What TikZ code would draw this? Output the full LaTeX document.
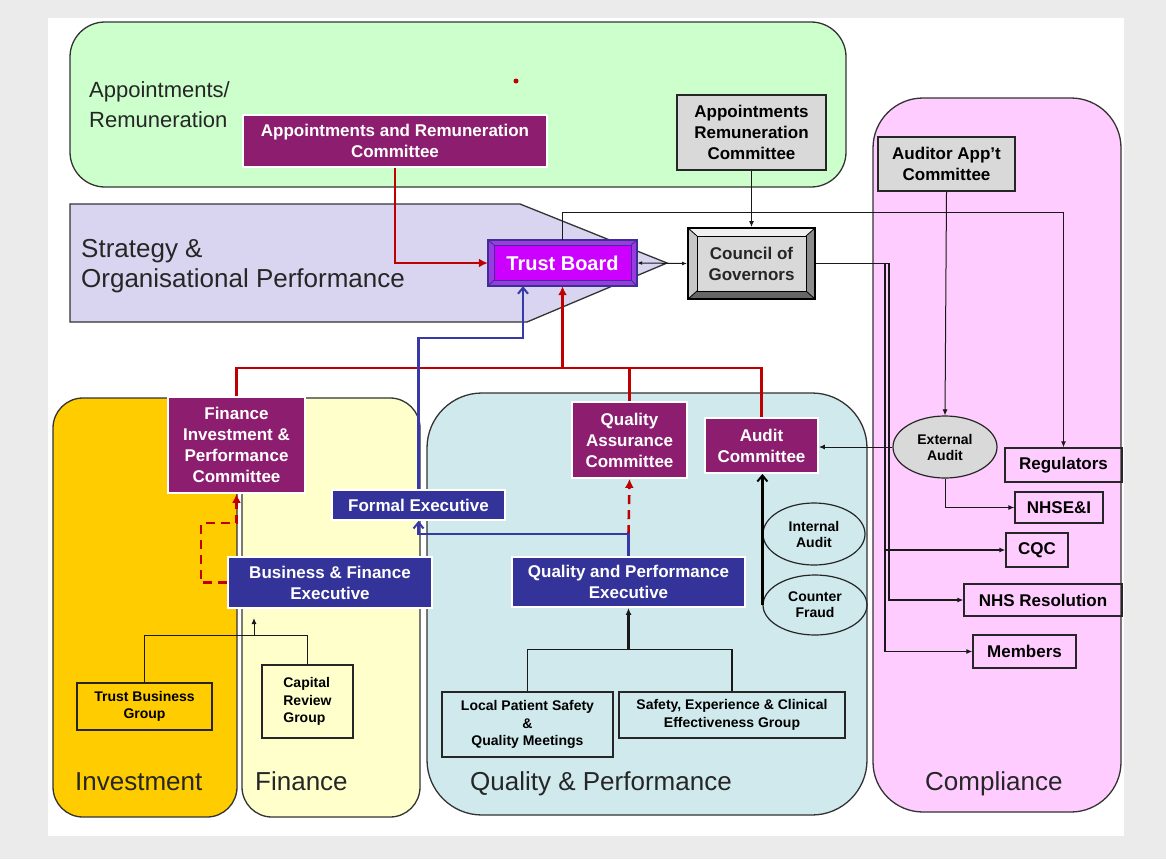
\documentclass[tikz,border=0pt]{standalone}
\usepackage{fontspec}
\setmainfont{Liberation Sans}
\usetikzlibrary{shapes.geometric,arrows.meta,calc}
\definecolor{cBg}{HTML}{EBEBEB}
\definecolor{cGreen}{HTML}{CCFFCC}
\definecolor{cLav}{HTML}{D9D5F0}
\definecolor{cGold}{HTML}{FFCC00}
\definecolor{cYel}{HTML}{FFFFCC}
\definecolor{cCyan}{HTML}{CFE9EC}
\definecolor{cPink}{HTML}{FFCCFF}
\definecolor{cPurple}{HTML}{8C1D6F}
\definecolor{cBlue}{HTML}{333399}
\definecolor{cBlueL}{HTML}{3838A8}
\definecolor{cRed}{HTML}{C00000}
\definecolor{cGray}{HTML}{D9D9D9}
\definecolor{cTB}{HTML}{CC00FF}
\definecolor{cTBo}{HTML}{9A3AE0}
\definecolor{cTBb}{HTML}{3C2F96}
\newcommand\fs[2]{\fontsize{#1}{#2}\selectfont}
\newcommand\mybox[7]{\node[#1, minimum width={#5-#3}, minimum height={#6-#4}] (#2) at ({(#3+#5)/2},{(#4+#6)/2}) {#7};}
\begin{document}
\begin{tikzpicture}[x=1pt,y=-1pt,
 panel/.style={draw=black!80, line width=1.3pt},
 pbox/.style={fill=cPurple, draw=white, line width=1.8pt, text=white, font=\bfseries\fs{17}{21}, align=center, inner sep=0pt},
 bbox/.style={fill=cBlue, draw=white, line width=1.8pt, text=white, font=\bfseries\fs{17}{21}, align=center, inner sep=0pt},
 gbox/.style={fill=cGray, draw=black!85, line width=1.3pt, font=\bfseries\fs{17}{21}, align=center, inner sep=0pt},
 wbox/.style={draw=black!85, line width=1.3pt, font=\bfseries\fs{17}{21}, align=center, inner sep=0pt},
 sbox/.style={draw=black!85, line width=1.2pt, font=\bfseries\fs{14}{17.5}, align=center, inner sep=0pt},
 ell/.style={ellipse, draw=black!85, line width=1.2pt, font=\bfseries\fs{14}{16}, align=center, inner sep=0pt},
 big/.style={font=\fs{26}{30}, anchor=base west, inner sep=0pt, text=black!85},
 mid/.style={font=\fs{22}{26}, anchor=base west, inner sep=0pt, text=black!85},
 conn/.style={draw=black!90, line width=1pt},
 arr/.style={-{Latex[length=6pt,width=5pt]}},
 rd/.style={draw=cRed, line width=2.6pt},
 bl/.style={draw=cBlueL, line width=2.6pt},
 barb/.style={-{Straight Barb[length=6pt,width=10pt,line width=2pt]}}
]
\useasboundingbox (0,0) rectangle (1166,859);
\fill[cBg] (0,0) rectangle (1166,859);
\fill[white] (48,18) rectangle (1124,836);

% panels
\draw[panel, fill=cGreen, rounded corners=35pt] (70,22) rectangle (846,187);
\draw[panel, fill=cLav] (70,204) -- (520,204) -- (667,263) -- (527,322) -- (70,322) -- cycle;
\draw[panel, fill=cPink, rounded corners=50pt] (873,98) rectangle (1121,812);
\draw[panel, fill=cGold, rounded corners=30pt] (53,398) rectangle (237,817);
\draw[panel, fill=cYel, rounded corners=30pt] (242,398) rectangle (420,817);
\draw[panel, fill=cCyan, rounded corners=55pt] (427,393) rectangle (867,815);

% labels
\node[mid] (lab1) at (89,97) {Appointments/};
\node[mid] (lab2) at (89,127) {Remuneration};
\node[big] (lab3) at (81,257) {Strategy \&};
\node[big] (lab4) at (81,287) {Organisational Performance};
\node[big] (lab5) at (75,790) {Investment};
\node[big] (lab6) at (255,790) {Finance};
\node[big] (lab7) at (470,790) {Quality \& Performance};
\node[big] (lab8) at (925,790) {Compliance};
\fill[cRed] (516,81) circle (2.5);

% Trust Board (bevel)
\fill[cTBo] (488,240) rectangle (637,286);
\fill[cTB] (494,245) rectangle (631,280);
\draw[cTBb, line width=0.8pt] (494,245) rectangle (631,280);
\draw[cTBb, line width=0.8pt] (488,240) -- (494,245) (637,240) -- (631,245) (488,286) -- (494,280) (637,286) -- (631,280);
\draw[cTBb, line width=2pt] (488,240) rectangle (637,286);
\node[inner sep=0pt, minimum width=149, minimum height=46, text=white, font=\bfseries\fs{20}{24}] (tb) at (562.5,263) {Trust Board};

% Council of Governors (bevel)
\fill[black!6] (688,228) -- (815,228) -- (806,236) -- (697,236) -- cycle;
\fill[black!22] (688,228) -- (697,236) -- (697,291) -- (688,299) -- cycle;
\fill[black!60] (688,299) -- (815,299) -- (806,291) -- (697,291) -- cycle;
\fill[black!45] (815,228) -- (815,299) -- (806,291) -- (806,236) -- cycle;
\draw[black, line width=0.8pt, fill=cGray] (697,236) rectangle (806,291);
\draw[black, line width=0.8pt] (688,228) -- (697,236) (815,228) -- (806,236) (688,299) -- (697,291) (815,299) -- (806,291);
\node[draw=black, line width=2pt, inner sep=0pt, minimum width=127, minimum height=71, font=\bfseries\fs{17}{21}, align=center, text=black!85] (council) at (751.5,263.5) {Council of\\Governors};

% boxes
\mybox{pbox}{arc}{243}{115}{547}{167}{Appointments and Remuneration\\Committee}
\mybox{gbox}{garc}{677}{95}{826}{170}{Appointments\\Remuneration\\Committee}
\mybox{gbox}{aac}{878}{137}{1015}{191}{Auditor App’t\\Committee}
\mybox{pbox}{fipc}{168}{397}{305}{493}{Finance\\Investment \&\\Performance\\Committee}
\mybox{bbox}{fe}{332}{490}{505}{520}{Formal Executive}
\mybox{bbox}{bfe}{228}{557}{432}{608}{Business \& Finance\\Executive}
\mybox{pbox}{qac}{572}{402}{687}{478}{Quality\\Assurance\\Committee}
\mybox{pbox}{audit}{705}{418}{818}{473}{Audit\\Committee}
\mybox{bbox}{qpe}{512}{557}{745}{607}{Quality and Performance\\Executive}
\mybox{sbox}{lps}{442}{692}{613}{757}{Local Patient Safety\\\&\\Quality Meetings}
\mybox{sbox}{sece}{619}{692}{845}{738}{Safety, Experience \& Clinical\\Effectiveness Group}
\mybox{sbox, fill=cGold}{tbg}{77}{683}{212}{730}{Trust Business\\Group}
\mybox{sbox, align=left}{crg}{262}{665}{353}{738}{Capital\\Review\\Group}
\mybox{wbox}{reg}{1005}{448}{1122}{482}{Regulators}
\mybox{wbox}{nhsei}{1015}{492}{1103}{523}{NHSE\&I}
\mybox{wbox}{cqc}{1006}{533}{1068}{567}{CQC}
\mybox{wbox}{nhsr}{964}{584}{1122}{616}{NHS Resolution}
\mybox{wbox}{mem}{973}{635}{1076}{668}{Members}
\node[ell, minimum width=102, minimum height=62] (ia) at (814,534) {Internal\\Audit};
\node[ell, minimum width=104, minimum height=60] (cf) at (815,605) {Counter\\Fraud};
\node[ell, fill=cGray, minimum width=104, minimum height=62] (ea) at (945,447) {External\\Audit};

% thin black connectors
\draw[conn, arr] (tb.north) -- ++(0,-27) -| (reg.north);
\draw[conn, arr] (garc.south) -- (council.north);
\draw[conn, {Latex[length=5pt,width=4pt]}-{Latex[length=5pt,width=4pt]}] (tb.east) -- (council.west);
\draw[conn, arr] (aac.south) -- (ea.north);
\draw[conn, arr] (ea.west) -- (ea.west -| audit.east);
\draw[conn, arr] (ea.south) |- (nhsei.west);
\draw[conn, line width=1.4pt, arr] (council.east) -- (885,263.5) |- (cqc.west);
\draw[conn, line width=1.4pt, arr] (council.east) -- (889,263.5) |- (nhsr.west);
\draw[conn, line width=1.4pt, arr] (council.east) -- (885,263.5) |- (mem.west);
\draw[conn] (tbg.north) -- ++(0,-47) -| (crg.north);
\coordinate (ja) at (254,636);
\coordinate (jb) at (254,618);
\draw[conn, arr] (ja) -- (jb);
\draw[conn, line width=1.3pt] (lps.north) -- ++(0,-42) -| (sece.north);
\coordinate (jq) at (qpe.south |- 0,650);
\draw[conn, line width=2.2pt, -{Latex[length=7pt,width=6pt]}] (jq) -- (qpe.south);
\draw[black, line width=2.6pt, barb] (cf.west) -- (cf.west |- audit.south);

% red connectors
\draw[rd, -{Latex[length=9pt,width=9pt]}] (arc.south) |- (tb.west);
\coordinate (rj) at (562.5,368);
\draw[rd] (fipc.north) |- (rj);
\draw[rd] (audit.north) |- (rj);
\draw[rd] (qac.north) |- (rj);
\draw[rd, -{Latex[length=9pt,width=9pt]}] (rj) -- (tb.south);
\draw[rd, dashed, dash pattern=on 9pt off 6pt, -{Latex[length=9pt,width=9pt]}] (bfe.west) -- ++(-26,0) -- ++(0,-59.5) -| (fipc.south);
\draw[rd, dashed, dash pattern=on 9pt off 6pt, -{Latex[length=9pt,width=9pt]}] ($(qpe.north)+(0,-22)$) -- (qac.south);

% blue connectors
\coordinate (tbb) at ($(tb.south)+(-39.5,0)$);
\draw[bl, barb] (fe.north) |- (tbb |- 0,338) -- (tbb);
\draw[bl, barb] (qpe.north) -- ++(0,-22) -| (fe.south);
\end{tikzpicture}
\end{document}
